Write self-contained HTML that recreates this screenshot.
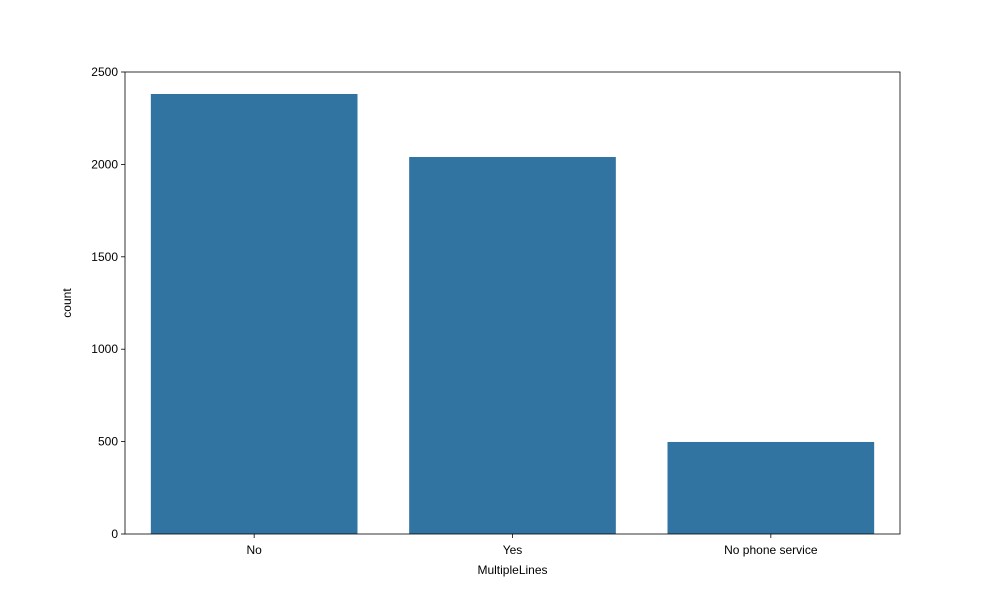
<!DOCTYPE html>
<html><head><meta charset="utf-8"><style>
body{margin:0;background:#fff;}
svg text{font-family:"Liberation Sans","DejaVu Sans",sans-serif;font-size:12px;fill:#000;}
</style></head><body>
<svg id="chart" width="1000" height="600" xmlns="http://www.w3.org/2000/svg">
<rect width="1000" height="600" fill="#fff"/>
</svg>
<script>
const categories = ["No", "Yes", "No phone service"];
const counts = [2381, 2040, 498];
const yTicks = [0, 500, 1000, 1500, 2000, 2500];

const svg = document.getElementById('chart');
const NS = 'http://www.w3.org/2000/svg';
const L = 125, R = 900, T = 72, B = 534;
const yMax = 2500;
function y(v){ return B - (v / yMax) * (B - T); }
function x(i){ return L + (i + 0.5) / categories.length * (R - L); }
const band = (R - L) / categories.length;
function mk(tag, attrs){ const e = document.createElementNS(NS, tag); for (const k in attrs) e.setAttribute(k, attrs[k]); svg.appendChild(e); return e; }

categories.forEach((c, i) => {
  const r = mk('rect', {x: x(i) - band * 0.4, y: y(counts[i]), width: band * 0.8, height: B - y(counts[i]), fill: '#3274a1'});
  
  
  const t = mk('line', {x1: x(i), x2: x(i), y1: B, y2: B + 4, stroke: '#000', 'stroke-width': 0.8});
  
  
  const lb = mk('text', {x: x(i), y: B + 20, 'text-anchor': 'middle'});
  lb.textContent = c;
  
  
});

yTicks.forEach(v => {
  const t = mk('line', {x1: L - 4, x2: L, y1: y(v), y2: y(v), stroke: '#000', 'stroke-width': 0.8});
  
  
  const lb = mk('text', {x: L - 7, y: y(v) + 4, 'text-anchor': 'end'});
  lb.textContent = v;
  
  
});

const frame = mk('rect', {x: L, y: T, width: R - L, height: B - T, fill: 'none', stroke: '#000', 'stroke-width': 0.8});



const xt = mk('text', {x: (L + R) / 2, y: 574, 'text-anchor': 'middle'});
xt.textContent = 'MultipleLines';



const yt = mk('text', {x: 71, y: (T + B) / 2, 'text-anchor': 'middle', transform: 'rotate(-90 71 ' + (T + B) / 2 + ')'});
yt.textContent = 'count';


</script>
</body></html>
